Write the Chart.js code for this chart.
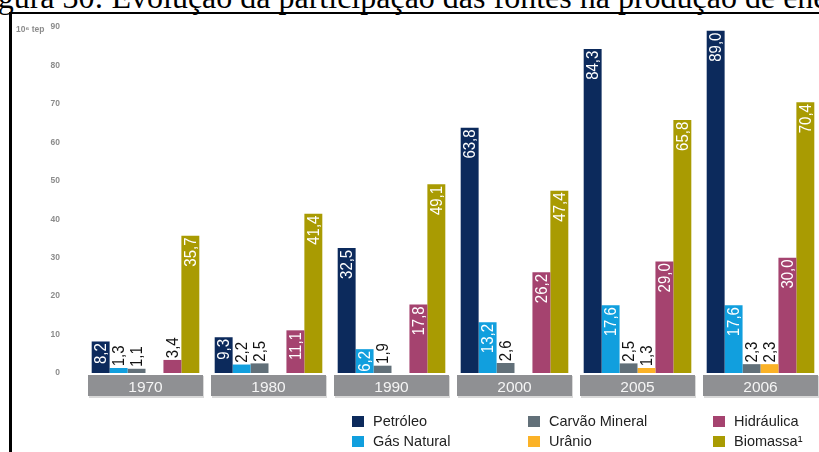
<!doctype html>
<html lang="pt">
  <head>
    <meta charset="utf-8">
    <title>Evolução da participação das fontes na produção de energia</title>
    <style>
      * {
        margin: 0;
        padding: 0;
      }
      html, body {
        width: 819px;
        height: 452px;
        overflow: hidden;
        background: #fff;
        position: relative;
      }
      .titulo {
        position: absolute;
        left: -29px;
        top: -19px;
        white-space: nowrap;
        font-family: "Liberation Serif", "Times New Roman", serif;
        font-size: 32px;
        line-height: 32px;
        color: #000;
      }
      .moldura {
        position: absolute;
        left: 9px;
        top: 12px;
        width: 900px;
        height: 500px;
        border-left: 3px solid #000;
        border-top: 2px solid #000;
      }
      .chartBox {
        position: absolute;
        left: 0;
        top: 0;
        width: 822px;
        height: 452px;
      }
      .legenda {
        position: absolute;
        left: 352px;
        top: 411px;
        display: grid;
        grid-template-rows: 20px 20px;
        grid-template-columns: 176px 185px 120px;
        grid-auto-flow: column;
        font-family: "Liberation Sans", Arial, sans-serif;
        font-size: 14.5px;
        color: #222;
      }
      .legenda div {
        display: flex;
        align-items: center;
      }
      .legenda span.cor {
        display: inline-block;
        width: 12px;
        height: 11px;
        margin-right: 9px;
      }
    </style>
  </head>
  <body>
    <div class="titulo">Figura 30: Evolução da participação das fontes na produção de energia</div>
    <div class="moldura"></div>
    <div class="chartBox">
      <canvas id="myChart"></canvas>
    </div>
    <div class="legenda" id="legenda"></div>

    <script src="https://cdn.jsdelivr.net/npm/chart.js"></script>
    <script>
// produção por fonte, 10^6 tep
const anos = ['1970', '1980', '1990', '2000', '2005', '2006'];
const petroleo   = [8.2, 9.3, 32.5, 63.8, 84.3, 89.0];
const gasNatural = [1.3, 2.2, 6.2, 13.2, 17.6, 17.6];
const carvao     = [1.1, 2.5, 1.9, 2.6, 2.5, 2.3];
const uranio     = [0, 0, 0, 0, 1.3, 2.3];
const hidraulica = [3.4, 11.1, 17.8, 26.2, 29.0, 30.0];
const biomassa   = [35.7, 41.4, 49.1, 47.4, 65.8, 70.4];

const nomes = ['Petróleo', 'Gás Natural', 'Carvão Mineral', 'Urânio', 'Hidráulica', 'Biomassa¹'];
const cores = ['#0c2a5c', '#119fde', '#627079', '#fbb227', '#a5436f', '#a99b02'];
const series = [petroleo, gasNatural, carvao, uranio, hidraulica, biomassa];

const yMin = 0;
const yMax = 90;
const yPasso = 10;
const unidade = '10⁶ tep';

const fonte = '"Liberation Sans", Arial, sans-serif';

function fmt(v) {
  return v.toFixed(1).replace('.', ',');
}

// caixas cinzentas por baixo dos anos + unidade do eixo
const caixasAnos = {
  id: 'caixasAnos',
  beforeDraw(chart) {
    const ctx = chart.ctx;
    const x = chart.scales.x;
    const y = chart.scales.y;
    const larg = x.width / anos.length;
    const topo = chart.chartArea.bottom + 2;
    ctx.save();
    anos.forEach((a, i) => {
      const esq = x.left + i * larg + 4;
      ctx.fillStyle = '#d9d9d9';
      ctx.fillRect(esq + 1, topo + 1, larg - 8, 22);
      ctx.fillStyle = '#8f9093';
      ctx.fillRect(esq, topo, larg - 8, 21);
    });
    ctx.fillStyle = '#8c8c8c';
    ctx.font = 'bold 8.5px ' + fonte;
    ctx.textBaseline = 'middle';
    ctx.textAlign = 'left';
    ctx.fillText(unidade, 16, y.getPixelForValue(yMax) + 3);
    ctx.restore();
  }
};

// valores escritos na vertical, dentro ou por cima da barra (letra um pouco condensada)
const valoresBarras = {
  id: 'valoresBarras',
  afterDatasetsDraw(chart) {
    const ctx = chart.ctx;
    ctx.save();
    ctx.font = '17px ' + fonte;
    ctx.textBaseline = 'middle';
    chart.data.datasets.forEach((ds, i) => {
      const meta = chart.getDatasetMeta(i);
      meta.data.forEach((bar, j) => {
        const v = ds.data[j];
        if (!v) return;
        ctx.save();
        ctx.translate(bar.x, bar.y);
        ctx.rotate(-Math.PI / 2);
        ctx.scale(0.88, 1);
        if (v >= 5) {
          ctx.fillStyle = '#ffffff';
          ctx.textAlign = 'right';
          ctx.fillText(fmt(v), -2, 1);
        } else {
          ctx.fillStyle = '#111111';
          ctx.textAlign = 'left';
          ctx.fillText(fmt(v), 2, 1);
        }
        ctx.restore();
      });
    });
    ctx.restore();
  }
};

const data = {
  labels: anos,
  datasets: series.map((s, i) => ({
    label: nomes[i],
    data: s,
    backgroundColor: cores[i],
    borderWidth: 0,
    categoryPercentage: 0.875,
    barPercentage: 1.0
  }))
};

const config = {
  type: 'bar',
  data,
  options: {
    responsive: true,
    maintainAspectRatio: false,
    animation: false,
    layout: {
      padding: { top: 27, left: 0, right: 0, bottom: 0 }
    },
    plugins: {
      legend: { display: false },
      tooltip: { enabled: false }
    },
    scales: {
      x: {
        grid: { display: false },
        border: { display: false },
        ticks: {
          color: '#f4f4f4',
          font: { family: fonte, size: 15.5 },
          padding: -3
        },
        afterFit(s) { s.height = 79; }
      },
      y: {
        min: yMin,
        max: yMax,
        grid: { display: false },
        border: { display: false },
        ticks: {
          stepSize: yPasso,
          color: '#8c8c8c',
          font: { family: fonte, size: 8.5, weight: 'bold' },
          padding: 16
        },
        afterFit(s) { s.width = 84; }
      }
    }
  },
  plugins: [caixasAnos, valoresBarras]
};

const myChart = new Chart(document.getElementById('myChart'), config);

// legenda em três colunas
const leg = document.getElementById('legenda');
nomes.forEach((n, i) => {
  const item = document.createElement('div');
  const cor = document.createElement('span');
  cor.className = 'cor';
  cor.style.background = cores[i];
  item.appendChild(cor);
  item.appendChild(document.createTextNode(n));
  leg.appendChild(item);
});
    </script>
  </body>
</html>
